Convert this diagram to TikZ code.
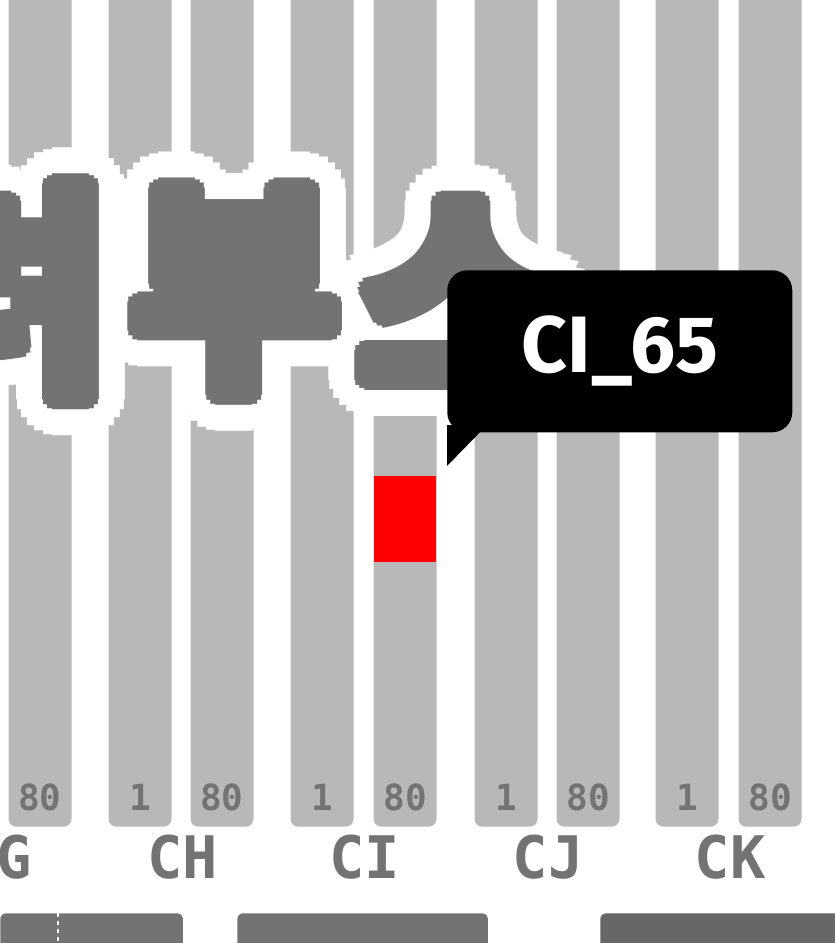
\documentclass[tikz,border=0pt]{standalone}
\usepackage{fontspec}
\setmainfont{Fira Sans}
\setmonofont{DejaVu Sans Mono}
\newfontfamily\krfont{Noto Sans CJK KR}
\usetikzlibrary{positioning,calc}
\definecolor{barGray}{HTML}{B8B8B8}
\definecolor{inkGray}{HTML}{737373}
\begin{document}
\begin{tikzpicture}[x=0.75pt, y=-0.75pt,
    barStyle/.style={rectangle, fill=barGray, rounded corners=6pt, minimum width=47.25pt, minimum height=645pt, anchor=south, inner sep=0pt},
    numStyle/.style={text=inkGray, font=\ttfamily\bfseries\fontsize{27}{27}\selectfont, inner sep=0pt},
    colStyle/.style={text=inkGray, font=\ttfamily\bfseries\fontsize{44}{44}\selectfont, inner sep=0pt},
    titleStyle/.style={font=\krfont\bfseries\fontsize{172}{172}\selectfont, inner sep=0pt},
    footStyle/.style={rectangle, fill=inkGray, rounded corners=4pt, anchor=north west, inner sep=0pt, minimum height=60pt}]
    \useasboundingbox (0,0) rectangle (835,943);
    \clip (0,0) rectangle (835,943);

    % columns
    \foreach \name/\x in {G_80/40, CH_1/140, CH_80/222, CI_1/322, CI_80/405, CJ_1/506, CJ_80/588, CK_1/687, CK_80/770}
        \node[barStyle] (\name) at (\x, 827) {};
    \foreach \name/\x in {G_80/40, CH_80/222, CI_80/405, CJ_80/588, CK_80/770}
        \node[numStyle] (\name_t) at (\x, 797) {80};
    \foreach \name/\x in {CH_1/140, CI_1/322, CJ_1/506, CK_1/687}
        \node[numStyle] (\name_t) at (\x, 797) {1};

    \node[colStyle] (G)  at (14, 857) {G};
    \node[colStyle] (CH) at (183, 857) {CH};
    \node[colStyle] (CI) at (365, 857) {CI};
    \node[colStyle] (CJ) at (548, 857) {CJ};
    \node[colStyle] (CK) at (730, 857) {CK};

    % big title: white outline, then heavy gray
    \foreach \ch/\x in {려/5, 부/235, 스/462} {
        \foreach \a in {0,15,...,345}
            \node[titleStyle, text=white] at ($(\x,292)+(\a:36)$) {\ch};
    }
    \foreach \ch/\x in {려/5, 부/235, 스/462} {
        \foreach \a in {0,30,...,330}
            \node[titleStyle, text=inkGray] at ($(\x,292)+(\a:10)$) {\ch};
        \node[titleStyle, text=inkGray] (title_\x) at (\x,292) {\ch};
    }

    % marked cell
    \node[rectangle, fill=red, minimum width=46.5pt, minimum height=64.5pt, inner sep=0pt, anchor=north west] (CI_65) at (374,476) {};

    % callout
    \node[rectangle, fill=black, rounded corners=15pt, minimum width=258.75pt, minimum height=121.5pt, anchor=north west, inner sep=0pt] (tip) at (447,270) {};
    \fill[black] (447,425) -- (447,466) -- (487,425) -- cycle;
    \node[text=white, font=\bfseries\fontsize{60}{60}\selectfont] (tipText) at (tip.center) {CI\_65};

    % footer
    \node[footStyle, minimum width=137pt] (foot1) at (0,913) {};
    \draw[white, dashed, line width=1pt] (58,913) -- (58,943);
    \node[footStyle, minimum width=188pt] (foot2) at (237,913) {};
    \node[footStyle, fill=inkGray!90!black, minimum width=180pt] (foot3) at (600,913) {};
\end{tikzpicture}
\end{document}
